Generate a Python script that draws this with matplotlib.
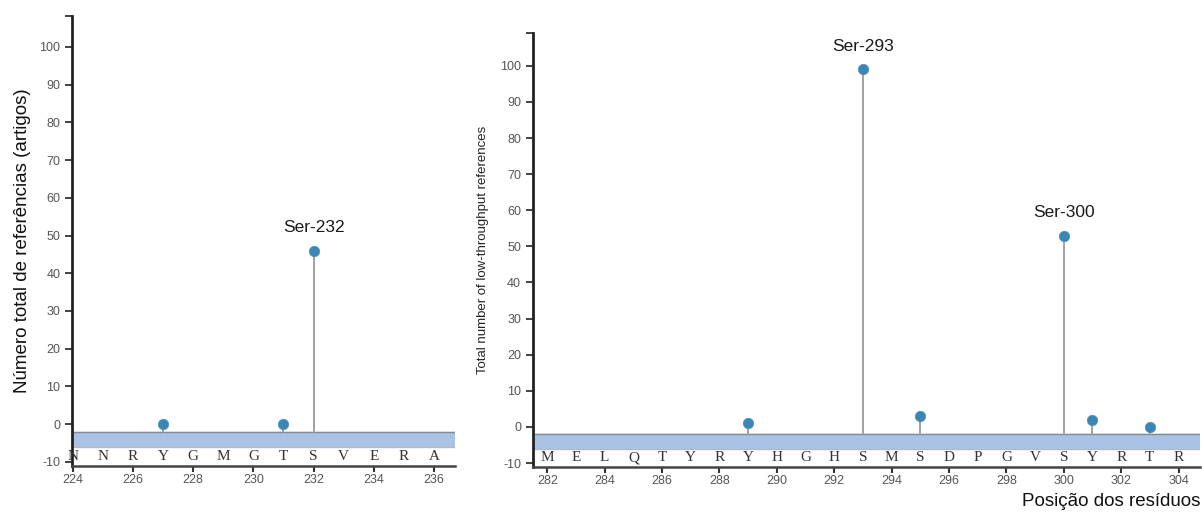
import matplotlib
matplotlib.use("Agg")
import matplotlib.pyplot as plt

plt.rcParams["axes.unicode_minus"] = False

# left panel data
left_positions = list(range(224, 237))
left_residues = ["N", "N", "R", "Y", "G", "M", "G", "T", "S", "V", "E", "R", "A"]
left_sites = [227, 231, 232]
left_refs = [0, 0, 46]
left_labels = {232: "Ser-232"}

# right panel data
right_positions = list(range(282, 305))
right_residues = ["M", "E", "L", "Q", "T", "Y", "R", "Y", "H", "G", "H", "S",
                  "M", "S", "D", "P", "G", "V", "S", "Y", "R", "T", "R"]
right_sites = [289, 293, 295, 300, 301, 303]
right_refs = [1, 99, 3, 53, 2, 0]
right_labels = {293: "Ser-293", 300: "Ser-300"}

y_ticks = list(range(-10, 101, 10))

MARKER = "#3a87b5"
STEM = "#9a9a9a"
BAND = "#a8c3e6"
TICK_GRAY = "#555555"


def draw_panel(ax, positions, residues, sites, refs, labels, xlim, ylim):
    ax.set_xlim(*xlim)
    ax.set_ylim(*ylim)
    # sequence band
    ax.axhspan(-6, -2, color=BAND, zorder=1)
    ax.axhline(-2, color="#8a8a8a", lw=1.0, zorder=2)
    ax.axhline(-6, color="#b5b5b5", lw=0.6, zorder=2)
    # stems and markers
    for x, v in zip(sites, refs):
        ax.plot([x, x], [-2, v], color=STEM, lw=1.3, zorder=3)
    ax.plot(sites, refs, "o", color=MARKER, ms=7.5, zorder=4,
            markeredgecolor="#4f8fb8", markeredgewidth=0.5)
    for x, v in zip(sites, refs):
        if x in labels:
            ax.annotate(labels[x], (x, v), xytext=(0, 11),
                        textcoords="offset points", ha="center",
                        va="bottom", fontsize=12.5, color="#1a1a1a",
                        family="Liberation Sans")
    # residue letters
    for x, r in zip(positions, residues):
        ax.text(x, -10.3, r, ha="center", va="bottom", fontsize=11,
                family="Liberation Serif", color="#333333", zorder=3)
    ax.set_yticks(y_ticks)
    ax.set_yticks([ylim[1]], minor=True)
    ax.set_xticks([p for p in positions if p % 2 == 0])
    ax.tick_params(axis="y", which="both", direction="out", length=5,
                   width=1.2, colors="#222222", labelcolor=TICK_GRAY,
                   labelsize=9)
    ax.tick_params(axis="x", direction="out", length=4, width=1.5,
                   colors="#333333", labelcolor=TICK_GRAY, labelsize=9,
                   pad=2)
    for lab in ax.get_xticklabels() + ax.get_yticklabels():
        lab.set_family("Liberation Sans")
    for side in ("top", "right"):
        ax.spines[side].set_visible(False)
    ax.spines["left"].set_linewidth(2.0)
    ax.spines["left"].set_color("#222222")
    ax.spines["bottom"].set_linewidth(1.8)
    ax.spines["bottom"].set_color("#444444")


fig = plt.figure(figsize=(12.02, 5.16), dpi=100)
ax1 = fig.add_axes([0.0599, 0.097, 0.3186, 0.872])
ax2 = fig.add_axes([0.4434, 0.095, 0.555, 0.841])

draw_panel(ax1, left_positions, left_residues, left_sites, left_refs,
           left_labels, (223.97, 236.7), (-11.1, 108.2))
draw_panel(ax2, right_positions, right_residues, right_sites, right_refs,
           right_labels, (281.5, 304.75), (-11.1, 109.1))

ax1.set_ylabel("Número total de referências (artigos)", fontsize=13.5,
               family="Liberation Sans", color="#111111", labelpad=6)
ax2.set_ylabel("Total number of low-throughput references", fontsize=9.5,
               family="Liberation Sans", color="#222222", labelpad=8)
fig.text(0.999, 0.012, "Posição dos resíduos", ha="right", va="bottom",
         fontsize=13.5, family="Liberation Sans", color="#111111")

fig.savefig("out.png", dpi=100)
